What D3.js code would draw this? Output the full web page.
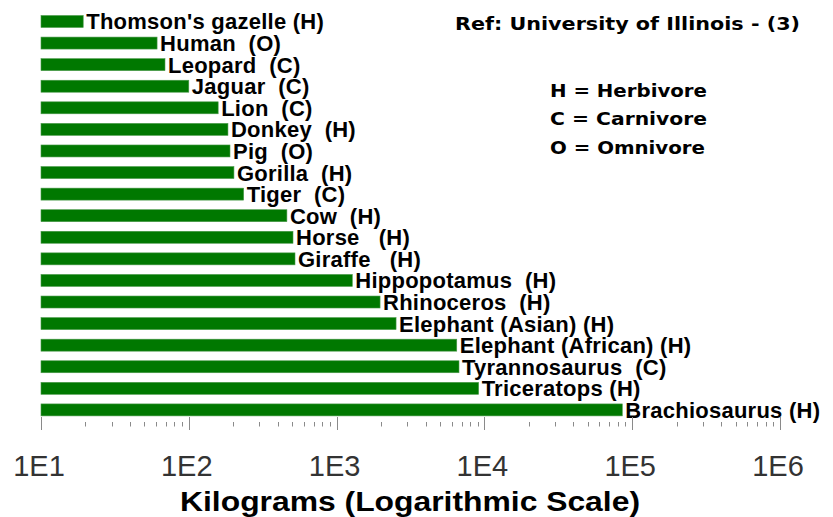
<!DOCTYPE html>
<html>
<head>
<meta charset="utf-8">
<script src="https://cdn.jsdelivr.net/npm/d3@7"></script>
<style>
  html, body { margin: 0; padding: 0; background: #ffffff; }
  svg { display: block; }
  text { white-space: pre; }
</style>
</head>
<body>
<svg id="chart" width="833" height="517"></svg>
<script>
// ---- data ----
const labels = [
  "Thomson's gazelle (H)", "Human  (O)", "Leopard  (C)", "Jaguar  (C)", "Lion  (C)",
  "Donkey  (H)", "Pig  (O)", "Gorilla  (H)", "Tiger  (C)", "Cow  (H)",
  "Horse   (H)", "Giraffe   (H)", "Hippopotamus  (H)", "Rhinoceros  (H)",
  "Elephant (Asian) (H)", "Elephant (African) (H)", "Tyrannosaurus  (C)",
  "Triceratops (H)", "Brachiosaurus (H)"
];
const massKg = [19.3, 61, 69, 100, 158, 184, 190, 202, 235, 461, 507, 523,
                1277, 1968, 2525, 6500, 6730, 9140, 85700];
const tickValues = [10, 100, 1000, 10000, 100000, 1000000];
const tickLabels = ["1E1", "1E2", "1E3", "1E4", "1E5", "1E6"];
const axisTitle = "Kilograms (Logarithmic Scale)";
const refText = "Ref: University of Illinois - (3)";
const legendLines = ["H = Herbivore", "C = Carnivore", "O = Omnivore"];

// ---- scales ----
const svg = d3.select("#chart");
const x = d3.scaleLog().domain([10, 1e6]).range([41, 780]);
const y = d3.scaleBand().domain(labels).range([10.7, 420.7])
  .paddingInner(0.445).paddingOuter(0.2225);

// ---- bars ----
const rows = labels.map((l, i) => ({ label: l, v: massKg[i] }));
svg.append("g").selectAll("rect").data(rows).join("rect")
  .attr("x", x(10))
  .attr("y", d => y(d.label))
  .attr("width", d => x(d.v) - x(10))
  .attr("height", y.bandwidth())
  .attr("fill", "#007800")
  .attr("stroke", "#4a9a4a")
  .attr("stroke-width", 0.6);

svg.append("g").selectAll("text").data(rows).join("text")
  .attr("x", d => x(d.v) + 3)
  .attr("y", d => y(d.label) + y.bandwidth() / 2 + 8)
  .attr("font-family", "'Liberation Sans', Arial, sans-serif")
  .attr("font-weight", "bold")
  .attr("font-size", 22)
  .attr("letter-spacing", 0.25)
  .attr("fill", "#000")
  .text(d => d.label);

// ---- axis ticks ----
const allTicks = x.ticks();
const isMajor = v => tickValues.some(t => Math.abs(t - v) / t < 1e-9);
svg.append("g").selectAll("line").data(allTicks).join("line")
  .attr("x1", d => Math.round(x(d)) + 0.5)
  .attr("x2", d => Math.round(x(d)) + 0.5)
  .attr("y1", d => isMajor(d) ? 417 : 422)
  .attr("y2", d => isMajor(d) ? 430 : 426.5)
  .attr("stroke", "#8a8a8a")
  .attr("stroke-width", 1);

svg.append("g").selectAll("text").data(tickValues).join("text")
  .attr("x", d => x(d) - 2)
  .attr("y", 476)
  .attr("text-anchor", "middle")
  .attr("font-family", "'Liberation Sans', Arial, sans-serif")
  .attr("font-size", 29)
  .attr("fill", "#333")
  .text((d, i) => tickLabels[i]);

// ---- axis title ----
svg.append("text")
  .attr("x", 180).attr("y", 510.5)
  .attr("font-family", "'Liberation Sans', Arial, sans-serif")
  .attr("font-weight", "bold")
  .attr("font-size", 27.5)
  .attr("textLength", 460)
  .attr("lengthAdjust", "spacingAndGlyphs")
  .attr("fill", "#000")
  .text(axisTitle);

// ---- reference and legend ----
svg.append("text")
  .attr("x", 455).attr("y", 30)
  .attr("font-family", "'DejaVu Sans', Verdana, sans-serif")
  .attr("font-weight", "bold")
  .attr("font-size", 17.5)
  .attr("textLength", 345)
  .attr("lengthAdjust", "spacingAndGlyphs")
  .text(refText);

const legendY = [96.5, 125, 154];
const legendW = [157, 157, 155];
svg.append("g").selectAll("text").data(legendLines).join("text")
  .attr("x", 550)
  .attr("y", (d, i) => legendY[i])
  .attr("font-family", "'DejaVu Sans', Verdana, sans-serif")
  .attr("font-weight", "bold")
  .attr("font-size", 17)
  .attr("textLength", (d, i) => legendW[i])
  .attr("lengthAdjust", "spacingAndGlyphs")
  .text(d => d);
</script>
</body>
</html>
